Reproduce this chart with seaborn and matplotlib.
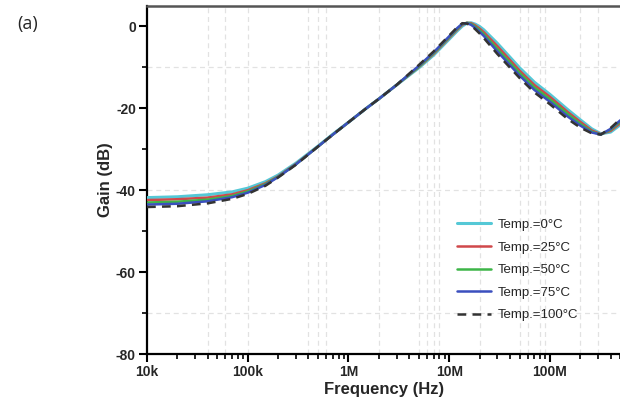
import numpy as np
import pandas as pd
import matplotlib
matplotlib.use("Agg")
import matplotlib.pyplot as plt
import matplotlib.ticker as mticker
import seaborn as sns

# ---------------- data ----------------
freq_hz = [1e4, 2e4, 4e4, 7e4, 1e5, 1.5e5, 2e5, 3e5, 5e5, 7e5, 1e6, 1.5e6, 2e6, 3e6,
           5e6, 7e6, 1e7, 1.2e7, 1.35e7, 1.5e7, 1.65e7, 1.8e7, 2e7, 2.2e7, 3e7, 5e7,
           7e7, 1e8, 1.5e8, 2e8, 2.6e8, 3.2e8, 4e8, 5e8]

gain_0c = [-41.8, -41.6, -41.1, -40.4, -39.5, -37.9, -36.3, -33.4, -29.2, -26.3, -23.4, -20.0, -17.7, -14.3,
           -10.1, -7.0, -3.1, -1.1, 0.1, 0.8, 0.9, 0.6, 0.0, -0.8, -4.1, -10.1,
           -13.6, -16.6, -20.3, -22.8, -25.0, -26.2, -25.8, -24.0]
gain_25c = [-42.4, -42.2, -41.8, -41.0, -40.0, -38.3, -36.6, -33.6, -29.3, -26.4, -23.4, -20.0, -17.7, -14.3,
            -9.9, -6.7, -2.8, -0.8, 0.4, 0.9, 0.8, 0.3, -0.5, -1.4, -4.8, -10.8,
            -14.3, -17.2, -20.9, -23.3, -25.4, -26.3, -25.5, -23.6]
gain_50c = [-43.0, -42.8, -42.3, -41.4, -40.3, -38.5, -36.7, -33.7, -29.3, -26.4, -23.4, -20.0, -17.7, -14.3,
            -9.8, -6.5, -2.6, -0.6, 0.6, 0.9, 0.6, 0.0, -0.9, -1.9, -5.5, -11.4,
            -14.9, -17.8, -21.4, -23.8, -25.7, -26.4, -25.2, -23.2]
gain_75c = [-43.5, -43.3, -42.7, -41.7, -40.6, -38.7, -36.8, -33.7, -29.3, -26.4, -23.4, -20.0, -17.7, -14.3,
            -9.6, -6.3, -2.4, -0.4, 0.7, 0.8, 0.4, -0.3, -1.3, -2.3, -6.1, -12.0,
            -15.5, -18.4, -22.0, -24.2, -25.9, -26.4, -25.0, -22.9]
gain_100c = [-44.1, -43.9, -43.2, -42.1, -40.9, -38.9, -36.9, -33.8, -29.3, -26.4, -23.4, -20.0, -17.7, -14.3,
             -9.4, -6.1, -2.2, -0.2, 0.8, 0.7, 0.2, -0.6, -1.7, -2.8, -6.7, -12.6,
             -16.1, -19.0, -22.6, -24.7, -26.1, -26.4, -24.8, -22.6]

series_labels = ["Temp.=0°C", "Temp.=25°C", "Temp.=50°C", "Temp.=75°C", "Temp.=100°C"]
x_tick_values = [1e4, 1e5, 1e6, 1e7, 1e8]
x_tick_labels = ["10k", "100k", "1M", "10M", "100M"]
y_tick_values = [0, -20, -40, -60, -80]
hgrid_values = [-10, -40, -70]
vgrid_values = [4e4, 6e4, 1e5, 4e5, 5e5, 6e5, 2e6, 5e6, 6e6, 7e6, 8e6, 2e7,
                5e7, 6e7, 8e7, 9e7, 2e8, 3e8]

# ---------------- styling ----------------
sns.set_theme(style="white")
plt.rcParams["font.family"] = ["Liberation Sans", "DejaVu Sans"]
plt.rcParams["axes.unicode_minus"] = False

colors = ["#55C8D6", "#D0484A", "#3DB548", "#3B4FBE", "#333333"]
styles = ["-", "-", "-", "-", "--"]
widths = [2.2, 1.8, 1.8, 1.8, 1.8]

fig = plt.figure(figsize=(6.2, 4.05), dpi=100)
ax = fig.add_axes([147 / 620, 1 - 354 / 405, 1 - 147 / 620 + 0.002, (354 - 6) / 405])

for g in hgrid_values:
    ax.axhline(g, color="#e2e2e2", lw=0.9, ls=(0, (4, 3)), zorder=0)
for v in vgrid_values:
    ax.axvline(v, color="#e2e2e2", lw=0.9, ls=(0, (4, 3)), zorder=0)

all_series = [gain_0c, gain_25c, gain_50c, gain_75c, gain_100c]
for vals, lab, c, s, w in zip(all_series, series_labels, colors, styles, widths):
    df = pd.DataFrame({"f": freq_hz, "g": vals})
    sns.lineplot(data=df, x="f", y="g", ax=ax, color=c, lw=w, label=lab,
                 linestyle=s, sort=True, zorder=3)
    if s == "--":
        ax.lines[-1].set_dashes((3.5, 2.5))

ax.set_xscale("log")
ax.set_xlim(1e4, 5.1e8)
ax.set_ylim(-80, 5)

ax.xaxis.set_major_locator(mticker.FixedLocator(x_tick_values))
ax.xaxis.set_major_formatter(mticker.FixedFormatter(x_tick_labels))
ax.xaxis.set_minor_locator(mticker.LogLocator(base=10, subs=np.arange(2, 10)))
ax.xaxis.set_minor_formatter(mticker.NullFormatter())
ax.yaxis.set_major_locator(mticker.FixedLocator(y_tick_values))
ax.yaxis.set_minor_locator(mticker.MultipleLocator(10))

ax.tick_params(axis="both", which="major", direction="out", length=6, width=1.5,
               labelsize=10, color="black", pad=2)
ax.tick_params(axis="both", which="minor", direction="out", length=3.5, width=1.2,
               color="black")
ax.tick_params(axis="x", which="both", bottom=True)
ax.tick_params(axis="y", which="both", left=True)
for lbl in ax.get_xticklabels() + ax.get_yticklabels():
    lbl.set_fontweight("bold")

ax.set_xlabel("Frequency (Hz)", fontsize=12, fontweight="bold", labelpad=2)
ax.set_ylabel("Gain (dB)", fontsize=12, fontweight="bold", labelpad=2)

for side in ["left", "bottom"]:
    ax.spines[side].set_color("black")
    ax.spines[side].set_linewidth(1.6)
ax.spines["top"].set_color("#555555")
ax.spines["top"].set_linewidth(1.8)
ax.spines["right"].set_visible(False)

leg = ax.legend(loc="center left", bbox_to_anchor=(457 / 620, 1 - 270 / 405),
                bbox_transform=fig.transFigure, frameon=False, fontsize=9.5,
                handlelength=2.6, handletextpad=0.5, labelspacing=0.78,
                borderpad=0, borderaxespad=0)

fig.text(17 / 620, 1 - 24 / 405, "(a)", fontsize=13, family=["Open Sans", "DejaVu Sans"],
         va="center", ha="left")

fig.savefig("out.png", dpi=100)
